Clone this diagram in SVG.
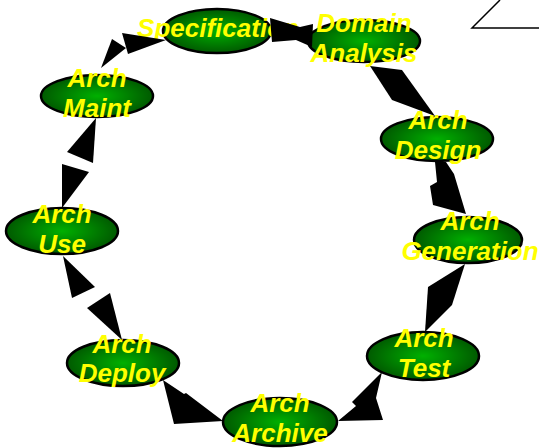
<svg xmlns="http://www.w3.org/2000/svg" width="539" height="448" viewBox="0 0 539 448">
<defs>
<radialGradient id="g" cx="50%" cy="50%" r="50%">
<stop offset="0" stop-color="#00b000"/>
<stop offset="1" stop-color="#005a00"/>
</radialGradient>
<style>
.n ellipse{fill:url(#g);stroke:#000;stroke-width:2.5}
.n text{font-family:"Liberation Sans",Arial,sans-serif;font-size:26px;font-weight:bold;font-style:italic;fill:#ffff00;text-anchor:middle}
.c polygon{fill:#000}
</style>
</defs>
<rect width="539" height="448" fill="#fff"/>
<path d="M500,0 L472,28 L539,28" fill="none" stroke="#000" stroke-width="1.5"/>
<g id="spec" class="n"><ellipse cx="217" cy="31" rx="54" ry="22"/><text x="218" y="37">Specification</text></g>
<g id="domain" class="n"><ellipse cx="364" cy="41" rx="56" ry="21"/><text x="364" y="32">Domain<tspan x="364" dy="30">Analysis</tspan></text></g>
<g id="maint" class="n"><ellipse cx="97" cy="96" rx="56" ry="21"/><text x="97" y="87">Arch<tspan x="97" dy="30">Maint</tspan></text></g>
<g id="design" class="n"><ellipse cx="437" cy="139" rx="56" ry="22"/><text x="438" y="129">Arch<tspan x="438" dy="30">Design</tspan></text></g>
<g id="generation" class="n"><ellipse cx="468" cy="240" rx="54" ry="23"/><text x="470" y="230">Arch<tspan x="470" dy="30">Generation</tspan></text></g>
<g id="use" class="n"><ellipse cx="62" cy="231" rx="56" ry="23"/><text x="62" y="223">Arch<tspan x="62" dy="30">Use</tspan></text></g>
<g id="deploy" class="n"><ellipse cx="123" cy="363" rx="56" ry="23"/><text x="122" y="353">Arch<tspan x="122" dy="29">Deploy</tspan></text></g>
<g id="test" class="n"><ellipse cx="423" cy="356" rx="56" ry="24"/><text x="424" y="347">Arch<tspan x="424" dy="30">Test</tspan></text></g>
<g id="archive" class="n"><ellipse cx="280" cy="422" rx="57" ry="24"/><text x="280" y="412">Arch<tspan x="280" dy="30">Archive</tspan></text></g>
<g id="connectors" class="c">
<polygon points="101,68 112,39 126,48"/>
<polygon points="122,33 128,54 166,40"/>
<polygon points="270,18 300,27 313,24 312,47 296,40 272,42"/>
<polygon points="370,66 402,70 435,116 392,100"/>
<polygon points="435,162 446,162 454,174 466,214 433,205 430,186 437,182"/>
<polygon points="465,264 428,287 425,332 452,305"/>
<polygon points="382,372 352,402 356,406 338,421 383,420 376,398"/>
<polygon points="163,380 184,394 186,393 223,421 174,424"/>
<polygon points="63,256 72,298 95,287"/>
<polygon points="122,340 87,308 110,293"/>
<polygon points="96,118 67,152 93,163"/>
<polygon points="62,164 89,172 62,208"/>
</g>
</svg>
